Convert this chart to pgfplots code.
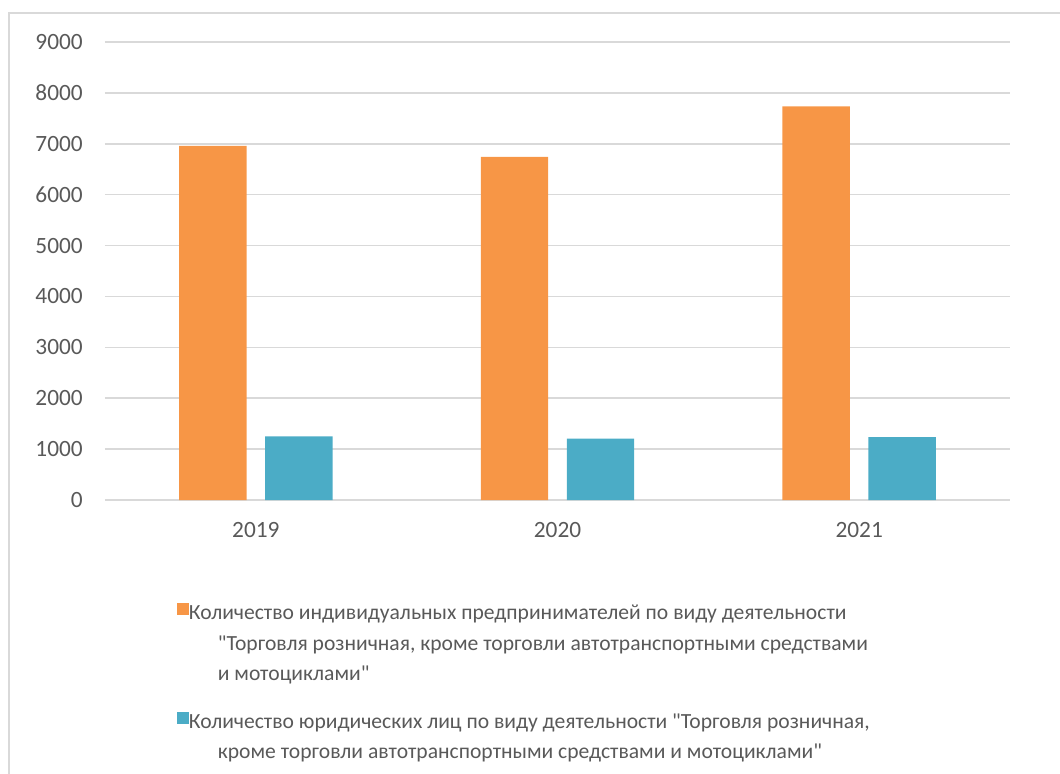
\documentclass[border=0pt]{standalone}
\usepackage{fontspec}
\setmainfont{Carlito}[Ligatures=TeXOff]
\usepackage{pgfplots}
\pgfplotsset{compat=1.18}
\definecolor{cOr}{HTML}{F79646}
\definecolor{cTl}{HTML}{4BACC6}
\definecolor{cGrid}{HTML}{D9D9D9}
\definecolor{cTxt}{HTML}{595959}
\pgfplotsset{
  blankimg/.style={legend image code/.code={\path (0pt,-11.25pt) (9pt,11.25pt);}},
  spacerimg/.style={legend image code/.code={\path (0pt,-6.375pt) (9pt,6.375pt);}},
}
\begin{document}
\begin{tikzpicture}[x=1pt,y=1pt]
\useasboundingbox (-78.75,-205.5) rectangle (716.25,375);
\draw[cGrid, line width=1.2pt] (-72,-210) -- (-72,365.25) -- (720,365.25);
\begin{axis}[
  scale only axis, width=678.75pt, height=343.5pt,
  ymin=0, ymax=9000, xmin=-0.5, xmax=2.5,
  ytick={0,1000,...,9000}, xtick={0,1,2}, xticklabels={2019,2020,2021},
  ymajorgrids, grid style={cGrid, line width=1.1pt},
  axis line style={draw=none}, major tick length=0pt,
  tick label style={font=\fontsize{17.5}{21}\selectfont, text=cTxt},
  /pgf/number format/assume math mode=true,
  /pgf/number format/set thousands separator={},
  yticklabel style={anchor=east, inner sep=0pt, xshift=-16.5pt},
  xticklabel style={anchor=base, inner sep=0pt, yshift=-27.75pt},
  ybar=13.9pt, bar width=50.6pt,
  legend style={at={(0.0785,-0.2074)}, anchor=north west, draw=none, fill=none,
    font=\fontsize{16.2}{22.5}\selectfont, text=cTxt, inner sep=0pt,
    nodes={inner sep=0pt}, row sep=0pt,
    /tikz/every even column/.style={column sep=7pt}},
  legend cell align=left,
]
\addplot[fill=cOr, draw=none,
  legend image code/.code={\path (0pt,-11.25pt) (9pt,11.25pt);\fill[cOr] (0pt,-3.85pt) rectangle (9pt,5.15pt);}]
  coordinates {(0,6960) (1,6745) (2,7735)};
\addlegendentry{Количество индивидуальных предпринимателей по виду деятельности\strut}
\addlegendimage{blankimg}
\addlegendentry{\hspace*{21.75pt}"Торговля розничная, кроме торговли автотранспортными средствами\strut}
\addlegendimage{blankimg}
\addlegendentry{\hspace*{21.75pt}и мотоциклами"\strut}
\addlegendimage{spacerimg}
\addlegendentry{\mbox{}}
\addplot[fill=cTl, draw=none,
  legend image code/.code={\path (0pt,-11.25pt) (9pt,11.25pt);\fill[cTl] (0pt,-3.85pt) rectangle (9pt,5.15pt);}]
  coordinates {(0,1251) (1,1204) (2,1238)};
\addlegendentry{Количество юридических лиц по виду деятельности "Торговля розничная,\strut}
\addlegendimage{blankimg}
\addlegendentry{\hspace*{21.75pt}кроме торговли автотранспортными средствами и мотоциклами"\strut}
\end{axis}
\end{tikzpicture}
\end{document}
